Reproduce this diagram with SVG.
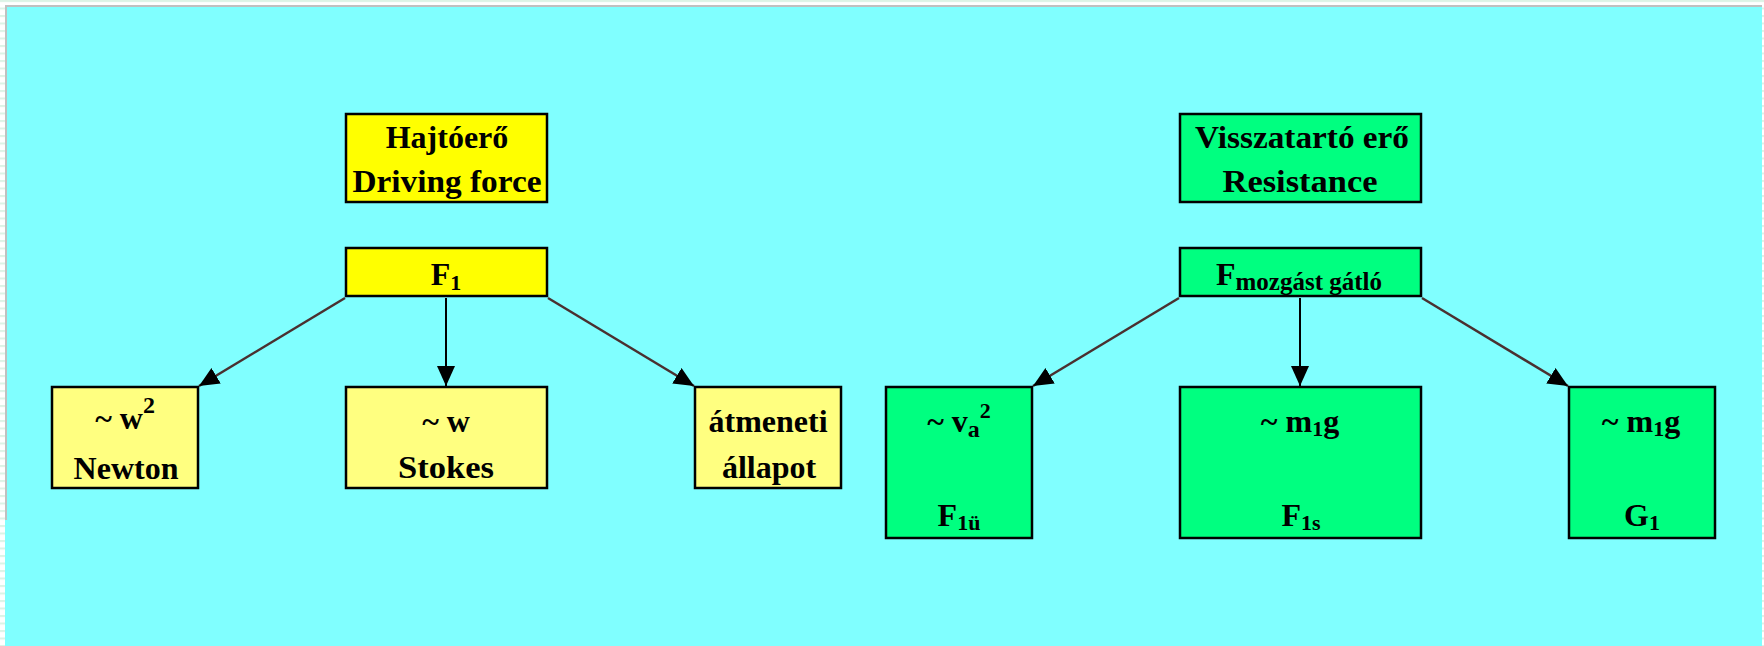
<svg xmlns="http://www.w3.org/2000/svg" width="1764" height="646" viewBox="0 0 1764 646">
  <defs>
    <pattern id="margin-stripes" width="8" height="7.5" patternUnits="userSpaceOnUse">
      <rect width="8" height="7.5" fill="#ffffff"/>
      <rect y="0" width="8" height="2" fill="#dcf3e6"/>
    </pattern>
    <marker id="head" markerUnits="userSpaceOnUse" markerWidth="22" markerHeight="20" refX="20" refY="9" orient="auto">
      <path d="M0,0 L20,9 L0,18 Z" fill="#000"/>
    </marker>
    <style>
      .t { font-family: "Liberation Serif", "Times New Roman", serif; font-weight: bold; font-size: 32px; text-anchor: middle; fill: #000; }
      .sub { font-size: 22px; }
      .sup { font-size: 24px; }
      .box { stroke: #000; stroke-width: 2.5; }
      .drive { fill: #ffff00; }
      .drive-lite { fill: #ffff80; }
      .resist { fill: #00ff80; }
      .diag { stroke: #4a3030; stroke-width: 2.5; fill: none; marker-end: url(#head); }
      .vert { stroke: #000; stroke-width: 2; fill: none; marker-end: url(#head); }
    </style>
  </defs>

  <!-- page margin and panel background -->
  <rect width="1764" height="646" fill="url(#margin-stripes)"/>
  <rect x="5" y="5" width="1757" height="2" fill="#c0c0c0"/>
  <rect x="5" y="5" width="2" height="515" fill="#c0c0c0"/>
  <rect x="7" y="7" width="1755" height="639" fill="#80ffff"/>
  <rect x="5" y="520" width="3" height="126" fill="#80ffff"/>

  <!-- connectors -->
  <g id="connectors">
    <line class="diag" x1="345" y1="298" x2="199" y2="386"/>
    <line class="vert" x1="446" y1="298" x2="446" y2="386"/>
    <line class="diag" x1="548" y1="298" x2="694" y2="386"/>
    <line class="diag" x1="1179" y1="298" x2="1033" y2="386"/>
    <line class="vert" x1="1300" y1="298" x2="1300" y2="386"/>
    <line class="diag" x1="1422" y1="298" x2="1568" y2="386"/>
  </g>

  <!-- driving force side -->
  <g id="driving-force">
    <rect class="box drive" x="346" y="114" width="201" height="88"/>
    <text class="t" x="447" y="148">Hajtóerő</text>
    <text class="t" x="447" y="192" textLength="189" lengthAdjust="spacingAndGlyphs">Driving force</text>
  </g>

  <g id="f1">
    <rect class="box drive" x="346" y="248" width="201" height="48"/>
    <text class="t" x="446" y="285">F<tspan class="sub" dy="5">1</tspan></text>
  </g>

  <g id="newton">
    <rect class="box drive-lite" x="52" y="387" width="146" height="101"/>
    <text class="t" x="125" y="429">~ w<tspan class="sup" dy="-16">2</tspan></text>
    <text class="t" x="126" y="479">Newton</text>
  </g>

  <g id="stokes">
    <rect class="box drive-lite" x="346" y="387" width="201" height="101"/>
    <text class="t" x="446" y="432">~ w</text>
    <text class="t" x="446" y="478" textLength="96" lengthAdjust="spacingAndGlyphs">Stokes</text>
  </g>

  <g id="transitional">
    <rect class="box drive-lite" x="695" y="387" width="146" height="101"/>
    <text class="t" x="768" y="432">átmeneti</text>
    <text class="t" x="769" y="478">állapot</text>
  </g>

  <!-- resistance side -->
  <g id="resistance">
    <rect class="box resist" x="1180" y="114" width="241" height="88"/>
    <text class="t" x="1302" y="148" textLength="214" lengthAdjust="spacingAndGlyphs">Visszatartó erő</text>
    <text class="t" x="1300" y="192" textLength="155" lengthAdjust="spacingAndGlyphs">Resistance</text>
  </g>

  <g id="f-resist">
    <rect class="box resist" x="1180" y="248" width="241" height="48"/>
    <text class="t" x="1299" y="285">F<tspan style="font-size:25px" dy="5">mozgást gátló</tspan></text>
  </g>

  <g id="f1u">
    <rect class="box resist" x="886" y="387" width="146" height="151"/>
    <text class="t" x="959" y="432">~ v<tspan style="font-size:24px" dy="5">a</tspan><tspan class="sub" dy="-19">2</tspan></text>
    <text class="t" x="959" y="526">F<tspan class="sub" dy="4">1ü</tspan></text>
  </g>

  <g id="f1s">
    <rect class="box resist" x="1180" y="387" width="241" height="151"/>
    <text class="t" x="1300" y="432">~ m<tspan class="sub" dy="4">1</tspan><tspan dy="-4">g</tspan></text>
    <text class="t" x="1301" y="526">F<tspan class="sub" dy="4">1s</tspan></text>
  </g>

  <g id="g1">
    <rect class="box resist" x="1569" y="387" width="146" height="151"/>
    <text class="t" x="1641" y="432">~ m<tspan class="sub" dy="4">1</tspan><tspan dy="-4">g</tspan></text>
    <text class="t" x="1642" y="526">G<tspan class="sub" dy="4">1</tspan></text>
  </g>
</svg>
